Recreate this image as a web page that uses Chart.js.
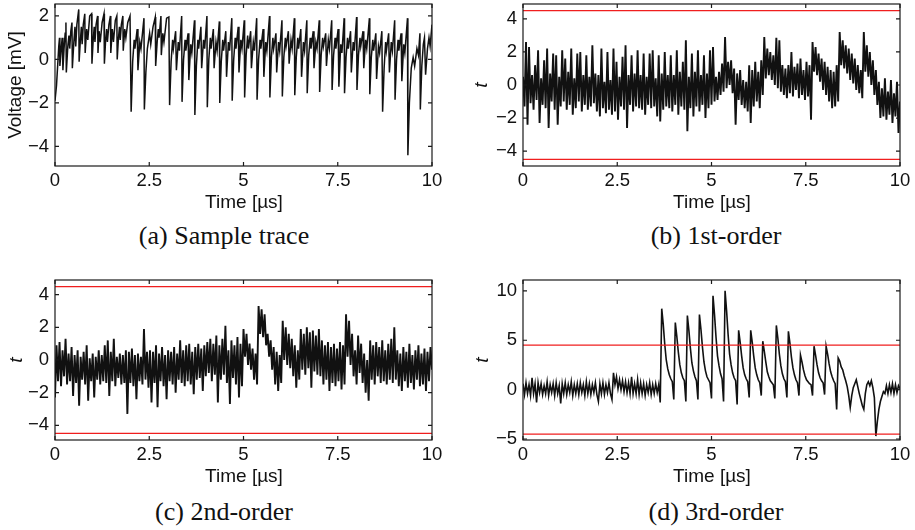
<!DOCTYPE html>
<html>
<head>
<meta charset="utf-8">
<title>Sample trace and t-test traces</title>
<script src="https://cdn.jsdelivr.net/npm/chart.js@4.4.1/dist/chart.umd.min.js"></script>
<style>
  body { margin: 0; background: #fff; }
  #page { position: relative; width: 915px; height: 530px; overflow: hidden; background: #fff;
          font-family: "Liberation Sans", Arial, sans-serif; color: #111; }
  .panel { position: absolute; width: 452px; height: 200px; }
  .panel canvas { display: block; }
  .lbl { position: absolute; white-space: nowrap; transform: translate(-50%, -50%); font-size: 19px; line-height: 1; }
  .ylbl { transform: translate(-50%, -50%) rotate(-90deg); }
  .cap { font-family: "Liberation Serif", "Times New Roman", serif; font-size: 26px; }
</style>
</head>
<body>
<div id="page">
  <div class="panel" style="left:0;top:0"><canvas id="chartA" width="452" height="200"></canvas></div>
  <div class="panel" style="left:468px;top:0"><canvas id="chartB" width="452" height="200"></canvas></div>
  <div class="panel" style="left:0;top:276px"><canvas id="chartC" width="452" height="200"></canvas></div>
  <div class="panel" style="left:468px;top:276px"><canvas id="chartD" width="452" height="200"></canvas></div>

  <div class="lbl ylbl" style="left:14px;top:85px">Voltage [mV]</div>
  <div class="lbl ylbl" style="left:480px;top:85px"><i>t</i></div>
  <div class="lbl ylbl" style="left:15px;top:360px"><i>t</i></div>
  <div class="lbl ylbl" style="left:481px;top:360px"><i>t</i></div>

  <div class="lbl" style="left:244px;top:201px">Time [µs]</div>
  <div class="lbl" style="left:712px;top:201px">Time [µs]</div>
  <div class="lbl" style="left:244px;top:475px">Time [µs]</div>
  <div class="lbl" style="left:712px;top:475px">Time [µs]</div>

  <div class="lbl cap" style="left:224px;top:236px">(a) Sample trace</div>
  <div class="lbl cap" style="left:716px;top:236px">(b) 1st-order</div>
  <div class="lbl cap" style="left:224px;top:512px">(c) 2nd-order</div>
  <div class="lbl cap" style="left:716px;top:512px">(d) 3rd-order</div>
</div>

<script>
// ---- data ----
const xTicks = [0, 2.5, 5, 7.5, 10];
const ticksA = [-4, -2, 0, 2];
const ticksT = [-4, -2, 0, 2, 4];
const ticksD = [-5, 0, 5, 10];
const threshold = 4.5;           // +/- t-test threshold (red lines)
const thresholdSpan = [0, 10];

// (a) sample trace: time [us] and voltage [mV]
const aTime = [
  0.00,0.04,0.07,0.10,0.12,0.13,0.16,0.19,0.21,0.24,
  0.27,0.29,0.30,0.34,0.37,0.39,0.42,0.45,0.46,0.50,
  0.53,0.55,0.58,0.63,0.64,0.67,0.70,0.72,0.75,0.79,
  0.80,0.84,0.87,0.92,0.97,0.98,1.01,1.04,1.06,1.09,
  1.13,1.14,1.17,1.20,1.25,1.30,1.31,1.34,1.37,1.39,
  1.43,1.47,1.48,1.52,1.55,1.60,1.64,1.65,1.68,1.71,
  1.73,1.76,1.80,1.81,1.85,1.88,1.93,1.99,
  2.02,2.06,2.10,2.12,2.18,2.20,2.25,2.28,2.36,
  2.37,2.41,2.45,2.51,2.54,2.60,2.66,2.67,2.71,2.74,2.76,2.81,2.82,2.86,2.89,2.96,3.02,
  3.04,3.08,3.12,3.14,3.20,3.22,3.27,3.30,3.36,
  3.37,3.41,3.45,3.47,3.53,3.55,3.60,3.63,3.70,
  3.71,3.75,3.79,3.81,3.87,3.89,3.94,3.97,4.03,
  4.04,4.08,4.12,4.14,4.20,4.22,4.27,4.30,4.36,
  4.37,4.41,4.45,4.47,4.53,4.55,4.60,4.63,4.69,
  4.70,4.74,4.78,4.80,4.86,4.88,4.93,4.96,5.02,
  5.03,5.07,5.11,5.13,5.19,5.21,5.26,5.29,5.35,
  5.36,5.40,5.44,5.46,5.52,5.54,5.59,5.62,5.69,
  5.70,5.74,5.78,5.80,5.86,5.88,5.93,5.96,6.02,
  6.03,6.07,6.11,6.13,6.19,6.21,6.26,6.29,6.35,
  6.36,6.40,6.44,6.46,6.52,6.54,6.59,6.62,6.68,
  6.69,6.73,6.77,6.79,6.85,6.87,6.92,6.95,7.01,
  7.02,7.06,7.10,7.12,7.18,7.20,7.25,7.28,7.34,
  7.35,7.39,7.43,7.45,7.51,7.53,7.58,7.61,7.67,
  7.68,7.72,7.76,7.78,7.84,7.86,7.91,7.94,8.00,
  8.01,8.05,8.09,8.11,8.17,8.19,8.24,8.27,8.34,
  8.35,8.39,8.43,8.45,8.51,8.53,8.58,8.61,8.67,
  8.69,8.73,8.77,8.79,8.85,8.87,8.92,8.95,9.01,
  9.02,9.06,9.10,9.12,9.18,9.20,9.25,9.28,9.35,
  9.36,9.40,9.45,9.50,9.54,9.60,9.64,9.68,
  9.69,9.73,9.77,9.80,9.83,9.88,9.92,9.95,10.00
];
const aVolt = [
  -1.9,-1.2,-0.3,0.6,1.0,-0.3,0.4,1.0,-0.5,0.5,
  1.2,1.7,-0.6,0.6,1.1,0.5,1.3,1.7,-0.4,0.8,
  1.5,0.6,1.6,2.3,-0.1,0.8,1.5,0.7,1.6,2.1,
  0.3,1.4,0.9,2.0,2.1,-0.2,0.8,1.5,0.8,1.6,
  2.0,0.3,1.3,0.8,1.7,2.1,-0.2,0.8,1.4,0.8,
  1.6,2.0,0.3,1.4,0.8,1.8,2.0,0.0,0.9,1.5,
  0.9,1.6,2.0,0.4,1.4,1.0,1.7,2.0,
  -2.4,-0.1,0.9,0.5,1.4,-0.5,0.8,0.5,1.9,
  -2.3,-0.6,0.5,1.2,0.7,1.5,1.95,-0.3,0.8,1.4,1.0,2.0,0.2,1.2,0.8,1.9,1.95,
  -2.1,-0.1,0.9,0.5,1.3,-0.5,0.8,0.4,2.0,
  -1.95,0.0,0.9,0.4,1.2,-0.95,0.7,0.3,1.8,
  -2.55,-0.3,0.9,0.5,1.5,-0.4,0.9,0.5,2.0,
  -2.2,0.0,1.0,0.5,1.4,-0.4,0.8,0.4,1.75,
  -2.0,-0.1,0.9,0.4,1.3,-0.8,0.8,0.4,1.9,
  -1.9,0.0,1.0,0.5,1.5,-0.6,0.9,0.5,1.8,
  -1.75,0.2,1.1,0.5,1.3,-0.4,0.8,0.4,1.9,
  -1.85,0.0,0.9,0.5,1.4,-0.8,0.8,0.4,2.0,
  -1.75,0.1,1.0,0.5,1.2,-0.6,0.8,0.4,1.8,
  -1.7,0.1,1.0,0.6,1.3,-0.2,0.9,0.5,1.9,
  -1.65,0.1,1.0,0.5,1.4,-0.8,0.8,0.4,1.8,
  -1.55,0.2,1.0,0.5,1.3,-0.4,0.8,0.5,1.8,
  -1.5,0.2,1.0,0.6,1.2,-0.3,0.9,0.5,1.8,
  -1.4,0.2,1.0,0.5,1.4,-1.25,0.7,0.3,1.9,
  -1.55,0.1,1.0,0.5,1.3,-0.6,0.8,0.4,1.95,
  -1.4,0.2,1.0,0.6,1.3,-0.4,0.9,0.5,1.9,
  -1.6,0.1,0.9,0.4,1.2,-0.9,0.6,0.3,1.3,
  -2.4,-0.4,0.8,0.4,1.2,-0.6,0.8,0.4,1.8,
  -1.85,0.0,0.9,0.4,1.2,-1.0,0.7,0.3,1.9,
  -4.4,-2.0,-0.4,0.1,-0.3,0.5,0.2,1.2,
  -2.3,-0.3,0.7,1.0,-0.7,0.5,1.0,0.6,1.6
];

// (b)-(d) t-statistic traces, one value every sampleStep us from 0 to 10
const sampleStep = 0.04;
const tFirst = [
  0.5,-1.3,2.6,-2.4,2.3,-1.1,0.6,-1.5,1.2,-0.9,2.1,-2.3,0.4,-1.2,1.5,-1.4,2.2,-2.6,0.7,-1.0,1.9,-1.5,1.8,-2.4,0.5,
  -1.3,2.1,-1.0,1.6,-1.5,0.8,-1.2,2.2,-1.8,0.4,-1.4,1.9,-1.0,2.0,-1.6,0.6,-1.2,1.8,-1.5,0.5,-1.3,2.4,-1.1,0.7,-1.6,
  0.6,-1.9,2.2,-1.4,0.2,-1.7,2.0,-1.5,0.3,-1.8,2.2,-1.6,1.4,-2.1,0.5,-1.3,1.7,-1.5,2.4,-2.6,0.6,-1.2,1.8,-1.6,0.7,
  -1.3,2.1,-1.4,0.6,-1.5,1.9,-1.8,0.5,-1.2,1.9,-1.4,2.1,-1.3,0.4,-1.9,1.8,-2.2,0.7,-1.5,2.0,-1.3,0.6,-1.4,1.8,-1.6,
  0.6,-1.2,2.1,-1.8,0.8,-1.3,1.4,-1.5,2.7,-2.8,0.5,-1.4,1.9,-1.9,0.8,-1.3,2.1,-1.6,0.6,-1.2,1.8,-2.0,0.7,-1.4,2.1,
  -1.2,2.3,-1.0,0.5,-0.9,0.8,-0.6,1.3,-0.4,2.9,-0.2,1.4,0.0,1.5,-0.5,1.0,-2.4,0.7,-0.9,0.9,-1.2,0.3,-1.4,0.2,-1.6,
  1.2,-2.3,0.9,-1.3,1.4,-1.0,0.8,-1.4,1.5,-0.6,2.9,0.4,2.2,0.6,2.0,0.3,1.8,0.0,2.85,-0.2,2.7,-0.4,1.2,-0.6,1.0,
  -0.8,1.2,-0.5,2.0,-0.7,1.1,-0.3,1.3,-0.8,1.6,-0.6,0.9,-0.9,1.4,-0.7,1.2,-2.1,2.6,0.8,2.3,0.6,1.9,0.2,1.6,-0.3,
  1.4,-0.6,1.1,-1.0,0.9,-1.4,0.8,-1.3,1.2,-1.0,3.2,1.2,2.7,1.0,2.4,0.7,2.2,0.3,1.9,0.1,1.6,-0.3,1.2,-0.5,0.9,
  -0.8,3.2,0.8,2.4,0.5,2.0,0.0,1.5,-0.6,0.9,-1.2,0.2,-2.0,-0.2,-1.9,0.4,-2.1,-0.4,-1.8,0.3,-2.3,-0.5,-1.9,0.2,-2.9,-1.0
];
const tSecond = [
  -2.3,0.9,-1.3,1.1,-1.6,0.6,-1.0,1.3,-1.5,0.4,-1.3,0.8,-2.2,0.3,-1.4,0.6,-2.8,0.2,-1.2,0.5,-1.5,0.9,-2.5,0.1,-1.3,
  0.4,-2.3,0.2,-1.2,0.6,-1.5,0.3,-1.3,0.9,-1.4,1.2,-2.2,0.5,-1.3,1.3,-1.6,0.2,-1.1,0.4,-1.5,0.3,-1.4,0.6,-3.3,0.5,
  -1.4,0.7,-1.6,0.3,-2.4,0.4,-1.3,0.2,-1.5,1.9,-1.2,0.5,-1.7,0.6,-2.6,0.5,-1.4,0.9,-2.9,0.4,-1.3,0.8,-1.6,0.3,-2.4,
  0.6,-1.3,0.5,-1.5,0.8,-2.0,0.4,-1.2,1.2,-1.4,0.6,-1.6,0.9,-1.3,1.0,-1.5,0.5,-2.1,0.8,-1.2,1.0,-1.1,0.7,-1.9,0.9,
  -1.0,1.1,-0.8,1.3,-1.3,1.0,-0.9,1.5,-2.6,0.9,-1.2,1.3,-0.9,2.1,-1.4,0.6,-2.7,1.2,-1.1,0.9,-1.5,1.4,-2.3,1.0,-1.6,
  1.9,0.2,1.6,-0.3,1.0,-0.6,0.7,-1.2,0.4,-1.5,3.3,1.6,3.1,1.4,2.8,0.9,1.6,0.2,1.2,-0.6,0.8,-1.5,0.5,-1.9,0.3,
  -1.4,2.4,0.0,2.0,-0.3,1.6,-0.5,1.3,-1.0,0.9,-1.7,0.6,-1.2,1.9,-0.6,1.6,-0.9,2.0,-0.5,1.7,-1.7,1.8,-0.7,1.5,-0.9,
  1.9,-1.0,1.2,-1.5,0.9,-1.2,1.1,-1.9,0.8,-1.4,1.0,-1.6,0.7,-1.3,1.1,-1.8,0.9,-1.5,2.8,0.2,2.4,-0.3,1.6,-1.0,0.6,
  -1.5,1.5,-0.8,1.0,-1.4,0.4,-2.0,0.0,-2.5,1.2,-1.2,0.9,-1.5,1.1,-1.0,0.8,-1.4,1.2,-1.3,0.6,-1.5,1.0,-1.2,1.3,-1.4,
  2.0,-1.2,0.6,-1.6,0.4,-1.9,0.8,-1.3,0.5,-1.7,1.0,-1.4,0.3,-1.8,0.6,-1.2,0.9,-1.6,0.4,-1.5,0.7,-1.9,0.5,-1.3,0.8,-0.6
];
const tThird = [
  0.6,-0.5,0.7,-0.4,0.5,-0.6,1.2,-0.4,0.6,-1.3,0.7,-0.3,0.6,-0.5,0.4,-0.4,0.8,-0.6,0.5,-0.3,0.6,-0.6,0.7,-0.4,0.4,
  -1.4,0.6,-0.4,0.7,-0.5,0.5,-0.3,0.8,-0.6,0.5,-0.4,0.6,-0.5,0.7,-0.3,0.5,-0.6,0.8,-0.4,0.6,-0.5,0.5,-0.3,0.7,-0.5,
  -1.2,0.6,-0.4,0.7,-0.5,0.5,-0.3,0.7,-0.4,-1.0,1.7,0.5,1.3,0.1,1.0,0.0,0.9,-0.2,0.8,-0.3,0.7,-0.4,1.3,-0.4,0.6,
  -0.4,1.0,-0.5,0.7,-0.4,0.6,-0.6,0.5,-0.3,0.7,-0.5,0.5,-0.4,0.6,-0.3,0.5,-1.3,
  8.2,6.6,4.6,3.0,2.1,1.5,1.1,0.8,-1.0,
  6.8,5.4,3.8,2.5,1.7,1.2,0.9,-1.2,
  7.5,6.0,4.2,2.7,1.9,1.3,0.9,-1.0,
  7.6,6.1,4.3,2.8,1.9,1.3,1.0,0.7,-0.9,
  9.5,7.6,5.3,3.4,2.4,1.6,1.1,-1.2,
  10.0,8.0,5.6,3.6,2.5,1.7,1.2,0.9,-1.5,
  6.0,4.8,3.4,2.2,1.5,1.1,0.8,-0.8,
  6.0,4.8,3.4,2.2,1.5,1.0,0.7,-0.6,
  4.9,3.9,2.8,1.8,1.3,0.9,0.7,0.5,-0.9,
  6.5,5.2,3.6,2.4,1.6,1.1,0.8,-0.8,
  5.9,4.7,3.3,2.2,1.5,1.0,0.7,-0.6,
  3.5,2.8,2.0,1.4,1.0,0.8,0.6,0.5,-0.6,
  4.4,3.5,2.5,1.7,1.2,0.9,0.7,-0.5,
  4.4,3.6,2.6,1.8,1.3,0.9,0.6,-2.0,
  3.2,2.9,2.3,2.0,1.4,0.9,0.3,-0.6,-1.8,-0.6,0.2,0.6,1.0,0.3,-0.4,-1.0,-1.6,-2.0,-0.4,0.5,0.8,
  0.4,0.9,0.2,-0.8,-4.7,-3.2,-2.0,-1.2,-0.7,-0.2,-0.4,0.4,-0.4,0.5,-0.3,0.6,-0.4,0.5,-0.3,0.4,0.1
];

// ---- chart helpers ----
Chart.defaults.font.family = '"Liberation Sans", Arial, sans-serif';
Chart.defaults.color = '#111';

function fmtTick(v) {
  return v < 0 ? '\u2212' + Math.abs(v) : String(v);
}

function sampled(values) {
  return values.map((v, i) => ({ x: +(i * sampleStep).toFixed(2), y: v }));
}

function paired(times, values) {
  return times.map((t, i) => ({ x: t, y: values[i] }));
}

// MATLAB style box with inward ticks
const boxPlugin = {
  id: 'boxPlugin',
  afterDraw(chart) {
    const { ctx, chartArea: a } = chart;
    const xs = chart.scales.x, ys = chart.scales.y;
    ctx.save();
    ctx.strokeStyle = '#1a1a1a';
    ctx.lineWidth = 1.2;
    ctx.strokeRect(a.left, a.top, a.right - a.left, a.bottom - a.top);
    ctx.beginPath();
    xs.ticks.forEach(t => {
      const px = xs.getPixelForValue(t.value);
      ctx.moveTo(px, a.bottom); ctx.lineTo(px, a.bottom - 4);
      ctx.moveTo(px, a.top); ctx.lineTo(px, a.top + 4);
    });
    ys.ticks.forEach(t => {
      const py = ys.getPixelForValue(t.value);
      ctx.moveTo(a.left, py); ctx.lineTo(a.left + 4, py);
      ctx.moveTo(a.right, py); ctx.lineTo(a.right - 4, py);
    });
    ctx.stroke();
    ctx.restore();
  }
};

function buildPanel(canvasId, trace, yMin, yMax, yTicks, axisHeight, lineWidth, withThreshold) {
  const datasets = [];
  if (withThreshold) {
    [threshold, -threshold].forEach(v => {
      datasets.push({
        data: thresholdSpan.map(t => ({ x: t, y: v })),
        borderColor: '#f01e1e', borderWidth: 1.3, order: 0
      });
    });
  }
  datasets.push({ data: trace, borderColor: '#111', borderWidth: lineWidth, order: 1 });

  return new Chart(document.getElementById(canvasId), {
    type: 'line',
    data: { datasets },
    options: {
      responsive: false,
      animation: false,
      events: [],
      layout: { padding: { left: 0, right: 20, top: 4, bottom: 0 } },
      plugins: { legend: { display: false }, tooltip: { enabled: false } },
      elements: { point: { radius: 0 }, line: { tension: 0, borderJoinStyle: 'miter' } },
      scales: {
        x: {
          type: 'linear', min: 0, max: 10,
          grid: { display: false, drawTicks: false },
          border: { display: false },
          afterBuildTicks: s => { s.ticks = xTicks.map(v => ({ value: v })); },
          afterFit: s => { s.height = axisHeight; s.paddingLeft = 0; s.paddingRight = 0; },
          ticks: { font: { size: 18.5 }, color: '#111', padding: 4, maxRotation: 0, autoSkip: false, callback: fmtTick }
        },
        y: {
          type: 'linear', min: yMin, max: yMax,
          grid: { display: false, drawTicks: false },
          border: { display: false },
          afterBuildTicks: s => { s.ticks = yTicks.map(v => ({ value: v })); },
          afterFit: s => { s.width = 55; s.paddingTop = 0; s.paddingBottom = 0; },
          ticks: { font: { size: 18.5 }, color: '#111', padding: 6, autoSkip: false, callback: fmtTick }
        }
      }
    },
    plugins: [boxPlugin]
  });
}

buildPanel('chartA', paired(aTime, aVolt), -4.9, 2.55, ticksA, 34, 1.5, false);
buildPanel('chartB', sampled(tFirst), -4.9, 4.9, ticksT, 34, 1.9, true);
buildPanel('chartC', sampled(tSecond), -4.9, 4.9, ticksT, 36, 1.9, true);
buildPanel('chartD', sampled(tThird), -5.1, 11.1, ticksD, 36, 1.6, true);
</script>
</body>
</html>
